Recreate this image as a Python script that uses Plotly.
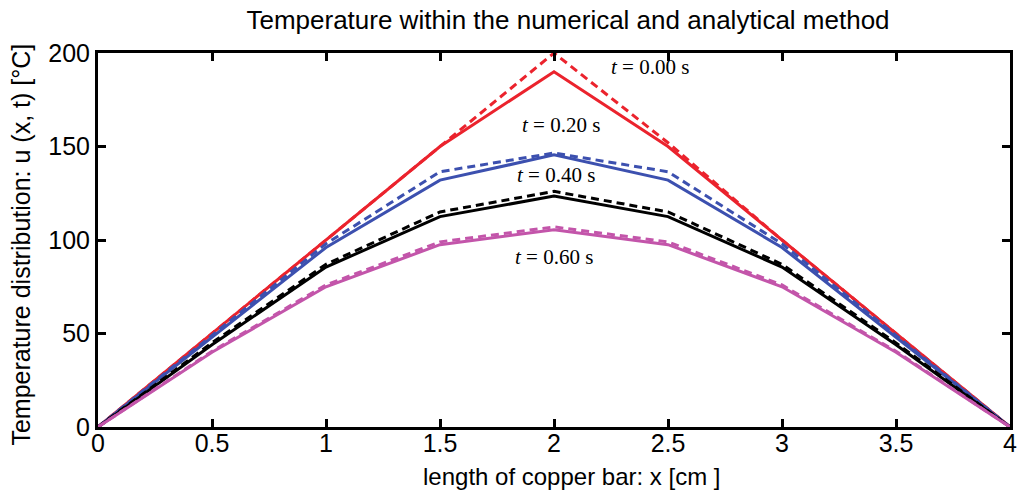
import plotly.graph_objects as go

x = [0, 0.5, 1, 1.5, 2, 2.5, 3, 3.5, 4]

# solid (numerical) and dashed (analytical) series
red_solid = [0, 50, 100, 150, 190, 150, 100, 50, 0]
red_dash = [0, 50, 100, 150, 200, 152, 100, 50, 0]
blue_solid = [0, 48, 96, 132, 145.5, 132, 96, 48, 0]
blue_dash = [0, 49, 98, 136.5, 146.5, 136.5, 98, 49, 0]
black_solid = [0, 44, 85.5, 112.5, 123.5, 112.5, 85.5, 44, 0]
black_dash = [0, 45, 87, 115, 126, 115, 87, 45, 0]
mag_solid = [0, 40, 75, 97.5, 105.5, 97.5, 75, 40, 0]
mag_dash = [0, 40.5, 76, 99, 107, 99, 76, 40.5, 0]

labels = ["<i>t</i> = 0.00 s", "<i>t</i> = 0.20 s", "<i>t</i> = 0.40 s", "<i>t</i> = 0.60 s"]
label_x = [2.42, 2.03, 2.01, 2.0]
label_y = [192.5, 161.5, 134.5, 91]

x_ticks = [0, 0.5, 1, 1.5, 2, 2.5, 3, 3.5, 4]
x_ticktext = ["0", "0.5", "1", "1.5", "2", "2.5", "3", "3.5", "4"]
y_ticks = [0, 50, 100, 150, 200]

RED = "rgb(235,35,45)"
BLUE = "rgb(60,80,175)"
BLACK = "rgb(0,0,0)"
MAG = "rgb(195,85,170)"
SANS = "Liberation Sans"

fig = go.Figure()
series = [
    (red_solid, RED, "solid"), (red_dash, RED, "8px,5px"),
    (blue_solid, BLUE, "solid"), (blue_dash, BLUE, "8px,5px"),
    (black_solid, BLACK, "solid"), (black_dash, BLACK, "8px,5px"),
    (mag_solid, MAG, "solid"), (mag_dash, MAG, "8px,5px"),
]
for ys, c, d in series:
    fig.add_trace(go.Scatter(x=x, y=ys, mode="lines",
                             line=dict(color=c, width=3, dash=d),
                             showlegend=False, hoverinfo="skip"))

for t, lx, ly in zip(labels, label_x, label_y):
    fig.add_annotation(x=lx, y=ly, text=t, showarrow=False,
                       font=dict(family="Liberation Serif", size=21, color="black"))

# axis titles
fig.add_annotation(xref="paper", yref="paper", x=(575 - 98) / 919, y=(427 - 476) / 374,
                   text="length of copper bar: x [cm ]", showarrow=False,
                   xanchor="center", yanchor="middle",
                   font=dict(family=SANS, size=24, color="black"))
fig.add_annotation(xref="paper", yref="paper", x=(20 - 98) / 919, y=(427 - 245) / 374,
                   text="Temperature distribution: u (x, t) [°C]", showarrow=False,
                   textangle=-90, xanchor="center", yanchor="middle",
                   font=dict(family=SANS, size=25, color="black"))

axis_common = dict(showline=True, linewidth=3, linecolor="black", mirror="ticks",
                   ticks="inside", ticklen=8, tickwidth=3, tickcolor="black",
                   showgrid=False, zeroline=False,
                   tickfont=dict(family=SANS, size=25, color="black"))

fig.update_layout(
    width=1024, height=491,
    margin=dict(l=98, r=7, t=53, b=64),
    paper_bgcolor="white", plot_bgcolor="white",
    title=dict(text="Temperature within the numerical and analytical method",
               x=568 / 1024, xanchor="center", y=1 - 20 / 491, yanchor="middle",
               font=dict(family=SANS, size=26, color="black")),
    xaxis=dict(range=[0, 4], tickvals=x_ticks, ticktext=x_ticktext,
               ticklabelstandoff=-8, **axis_common),
    yaxis=dict(range=[0, 200], tickvals=y_ticks, **axis_common),
)

fig.write_html("out.html")
